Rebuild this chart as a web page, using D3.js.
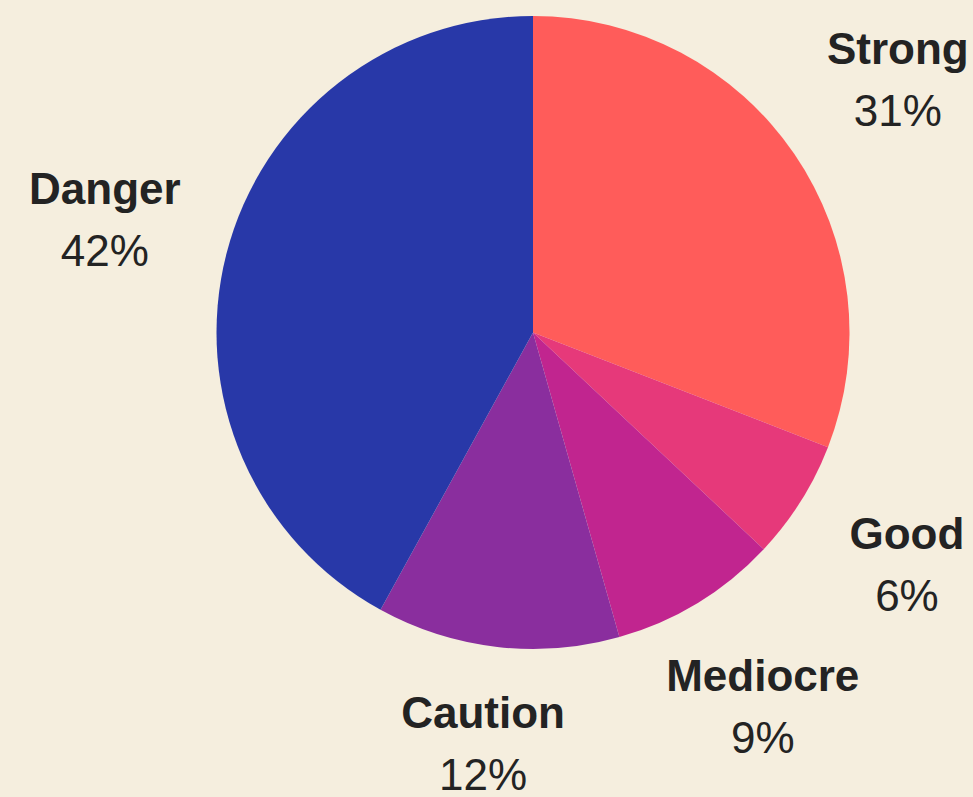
<!DOCTYPE html>
<html>
<head>
<meta charset="utf-8">
<script src="https://cdn.jsdelivr.net/npm/d3@7"></script>
<style>
  html, body { margin: 0; padding: 0; background: #F5EEDE; }
  svg { display: block; }
</style>
</head>
<body>
<svg id="chart" width="973" height="797"></svg>
<script>
const categories = ["Strong", "Good", "Mediocre", "Caution", "Danger"];
const values = [30.9, 6.1, 8.6, 12.4, 42.0];
const percentLabels = ["31%", "6%", "9%", "12%", "42%"];
const colors = ["#FF5C5A", "#E6397A", "#C1258F", "#8A2E9E", "#2838A8"];

const W = 973, H = 797;
const cx = 533, cy = 332.5, r = 316.5;
const labelR = 442;

const svg = d3.select("#chart");
svg.append("rect").attr("width", W).attr("height", H).attr("fill", "#F5EEDE");

const data = categories.map((c, i) => ({ name: c, value: values[i], pct: percentLabels[i], color: colors[i] }));

const pie = d3.pie().value(d => d.value).sort(null);
const arcs = pie(data);
const arc = d3.arc().innerRadius(0).outerRadius(r);
const labelArc = d3.arc().innerRadius(labelR).outerRadius(labelR);

const g = svg.append("g").attr("transform", `translate(${cx},${cy})`);

g.selectAll("path.slice")
  .data(arcs)
  .join("path")
  .attr("class", "slice")
  .attr("d", arc)
  .attr("fill", d => d.data.color);

const labels = svg.append("g");
arcs.forEach(a => {
  const [lx, ly] = labelArc.centroid(a);
  let x = cx + lx;
  let y = cy + ly;
  let nameY = y - 19;
  let pctY = y + 43;
  const maxBase = H - 7;
  if (pctY > maxBase) { const s = pctY - maxBase; nameY -= s; pctY -= s; }
  const t1 = labels.append("text")
    .attr("x", x).attr("y", nameY)
    .attr("text-anchor", "middle")
    .attr("font-family", "'Liberation Sans', Arial, sans-serif")
    .attr("font-weight", "bold")
    .attr("font-size", 44)
    .attr("fill", "#232323")
    .text(a.data.name);
  const t2 = labels.append("text")
    .attr("x", x).attr("y", pctY)
    .attr("text-anchor", "middle")
    .attr("font-family", "'Liberation Sans', Arial, sans-serif")
    .attr("font-size", 44)
    .attr("fill", "#232323")
    .text(a.data.pct);
  // keep labels inside the canvas horizontally
  const bb = t1.node().getBBox();
  const bb2 = t2.node().getBBox();
  const left = Math.min(bb.x, bb2.x), right = Math.max(bb.x + bb.width, bb2.x + bb2.width);
  let shift = 0;
  if (right > W - 4) shift = (W - 4) - right;
  if (left < 4) shift = 4 - left;
  if (shift) { t1.attr("x", x + shift); t2.attr("x", x + shift); }
});
</script>
</body>
</html>
